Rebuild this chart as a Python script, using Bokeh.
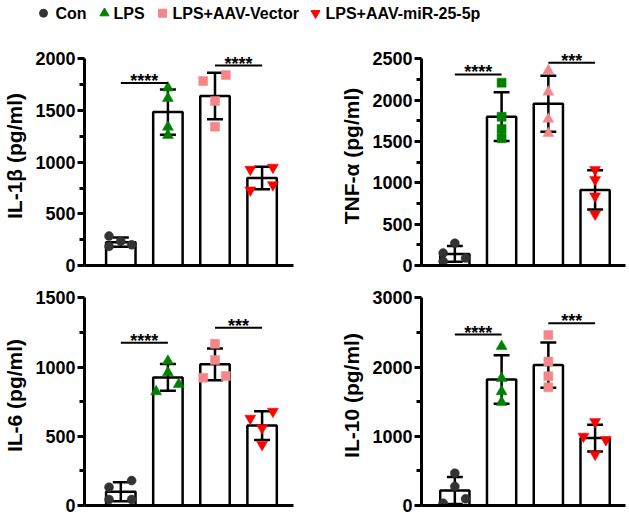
from bokeh.plotting import figure
from bokeh.models import Range1d, FixedTicker
from bokeh.layouts import column, row
from bokeh.embed import file_html
from bokeh.resources import INLINE
from bokeh.core.properties import value
import numpy as np

# ---------------- data ----------------
groups = ["Con", "LPS", "LPS+AAV-Vector", "LPS+AAV-miR-25-5p"]
group_colors = ["#333333", "#008000", "#F4868A", "#FF0000"]

il1b_con = [285, 235, 185, 200]
il1b_lps = [1720, 1618, 1341, 1261]
il1b_vec = [1785, 1843, 1592, 1344]
il1b_mir = [930, 950, 780, 730]

tnf_con = [150, 270, 90, 50]
tnf_lps = [2212, 1800, 1652, 1540]
tnf_vec = [2360, 2100, 1772, 1600]
tnf_mir = [1160, 1040, 840, 620]

il6_con = [132, 180, 43, 43]
il6_lps = [1044, 960, 823, 876]
il6_vec = [1169, 1051, 924, 936]
il6_mir = [630, 680, 560, 440]

il10_con = [467, 274, 34, 96]
il10_lps = [2301, 1839, 1647, 1493]
il10_vec = [2465, 2080, 1868, 1709]
il10_mir = [1210, 1000, 950, 740]

il1b_ticks = [0, 500, 1000, 1500, 2000]
tnf_ticks = [0, 500, 1000, 1500, 2000, 2500]
il6_ticks = [0, 500, 1000, 1500]
il10_ticks = [0, 1000, 2000, 3000]

# significance brackets: (group a, group b, height, stars)
il1b_sig = [(1, 2, 1766, "****"), (3, 4, 1936, "****")]
tnf_sig = [(1, 2, 2312, "****"), (3, 4, 2452, "***")]
il6_sig = [(1, 2, 1176, "****"), (3, 4, 1284, "***")]
il10_sig = [(1, 2, 2470, "****"), (3, 4, 2634, "***")]

# ---------------- layout / style ----------------
FONT = "Liberation Sans"
L, C, R = -0.25, 0.0, 0.23
il1b_jit = [[L, C, L, R], [C, C, C, C], [L, R, C, C], [L, R, R, L]]
tnf_jit = [[L, C, R, L], [C, C, C, C], [C, C, C, C], [C, C, C, C]]
il6_jit = [[L, R, L, R], [C, C, L, R], [C, C, L, R], [L, R, C, C]]
il10_jit = [[C, C, L, R], [C, C, C, C], [C, C, C, C], [C, L, R, C]]

default_markers = ["circle", "triangle", "square", "inverted_triangle"]
tnf_markers = ["circle", "square", "triangle", "inverted_triangle"]
marker_sizes = {"circle": 9, "triangle": 11, "square": 9, "inverted_triangle": 11}

HEAD = 1.06  # frame headroom above the top tick (axis line stops at top tick)


def panel(label, series, ticks, sig, jit, markers, width, height,
          bl, br, bt, bb, xr):
    ymax = ticks[-1]
    step = ticks[1] - ticks[0]
    minor = [t + step / 2 for t in ticks[:-1]]
    p = figure(width=width, height=height, output_backend="svg",
               toolbar_location=None, x_range=Range1d(*xr),
               y_range=Range1d(0, ymax * HEAD),
               min_border_left=bl, min_border_right=br,
               min_border_top=bt, min_border_bottom=bb)
    p.outline_line_color = None
    p.grid.visible = False
    p.background_fill_color = "white"
    p.border_fill_color = "white"

    xs = np.arange(1, 5)
    means = [float(np.mean(s)) for s in series]
    sds = [float(np.std(s, ddof=1)) for s in series]

    p.vbar(x=xs, top=means, width=0.625, bottom=0, fill_color="white",
           line_color="black", line_width=2.5)

    lo = [m - s for m, s in zip(means, sds)]
    hi = [m + s for m, s in zip(means, sds)]
    cap = 0.17
    p.segment(x0=xs, x1=xs, y0=lo, y1=hi, line_color="black", line_width=2.5)
    p.segment(x0=xs - cap, x1=xs + cap, y0=hi, y1=hi, line_color="black", line_width=2.5)
    p.segment(x0=xs - cap, x1=xs + cap, y0=lo, y1=lo, line_color="black", line_width=2.5)

    for i, s in enumerate(series):
        px = [i + 1 + j for j in jit[i]]
        m = markers[i]
        p.scatter(x=px, y=s, marker=m, size=marker_sizes[m],
                  fill_color=group_colors[i], line_color=group_colors[i],
                  line_width=0.5)

    for a, b, h, stars in sig:
        p.segment(x0=[a], x1=[b], y0=[h], y1=[h], line_color="black", line_width=2)
        p.text(x=[(a + b) / 2], y=[h], text=[stars], text_align="center",
               text_baseline="middle", y_offset=-2,
               text_font=value(FONT), text_font_size="18px",
               text_font_style="bold", text_color="black")

    yax = p.yaxis[0]
    yax.ticker = FixedTicker(ticks=ticks, minor_ticks=minor)
    yax.bounds = (0, ymax)
    yax.axis_line_width = 3
    yax.major_tick_line_width = 3
    yax.minor_tick_line_width = 3
    yax.major_tick_out = 7
    yax.major_tick_in = 0
    yax.minor_tick_out = 5
    yax.minor_tick_in = 0
    yax.major_label_text_font = FONT
    yax.major_label_text_font_size = "18px"
    yax.major_label_text_font_style = "bold"
    yax.major_label_text_color = "black"
    yax.major_label_standoff = 2
    yax.axis_label = label
    yax.axis_label_text_font = FONT
    yax.axis_label_text_font_size = "21px"
    yax.axis_label_text_font_style = "bold"
    yax.axis_label_text_color = "black"
    yax.axis_label_standoff = 6

    xax = p.xaxis[0]
    xax.ticker = FixedTicker(ticks=[])
    xax.major_label_text_font_size = "0px"
    xax.axis_line_width = 3
    xax.major_tick_line_color = None
    xax.minor_tick_line_color = None
    return p


XR_LEFT = (0.229, 4.667)
XR_RIGHT = (0.287, 4.65)

p1 = panel("IL-1β (pg/ml)", [il1b_con, il1b_lps, il1b_vec, il1b_mir], il1b_ticks,
           il1b_sig, il1b_jit, default_markers, 337, 240, 80, 44, 6, 15, XR_LEFT)
p2 = panel("TNF-α (pg/ml)", [tnf_con, tnf_lps, tnf_vec, tnf_mir], tnf_ticks,
           tnf_sig, tnf_jit, tnf_markers, 292, 240, 80, 4, 6, 15, XR_RIGHT)
p3 = panel("IL-6 (pg/ml)", [il6_con, il6_lps, il6_vec, il6_mir], il6_ticks,
           il6_sig, il6_jit, default_markers, 337, 236, 80, 44, 5, 11, XR_LEFT)
p4 = panel("IL-10 (pg/ml)", [il10_con, il10_lps, il10_vec, il10_mir], il10_ticks,
           il10_sig, il10_jit, default_markers, 292, 236, 80, 4, 5, 11, XR_RIGHT)

# ---------------- legend strip ----------------
lg = figure(width=629, height=40, output_backend="svg", toolbar_location=None,
            x_range=Range1d(0, 629), y_range=Range1d(0, 40),
            min_border=0)
lg.axis.visible = False
lg.grid.visible = False
lg.outline_line_color = None
leg_marker_x = [43, 104, 162, 315]
leg_text_x = [55, 113, 172, 325]
leg_y = 27.3
leg_size = {"circle": 8, "triangle": 9, "square": 8, "inverted_triangle": 9}
for i, g in enumerate(groups):
    m = default_markers[i]
    lg.scatter(x=[leg_marker_x[i]], y=[leg_y], marker=m, size=leg_size[m],
               fill_color=group_colors[i], line_color=group_colors[i])
    lg.text(x=[leg_text_x[i]], y=[leg_y], text=[g], text_align="left",
            text_baseline="middle", text_font=value(FONT),
            text_font_size="16px", text_font_style="bold", text_color="black")

layout = column(lg, row(p1, p2), row(p3, p4))
open("out.html", "w").write(file_html(layout, INLINE))
